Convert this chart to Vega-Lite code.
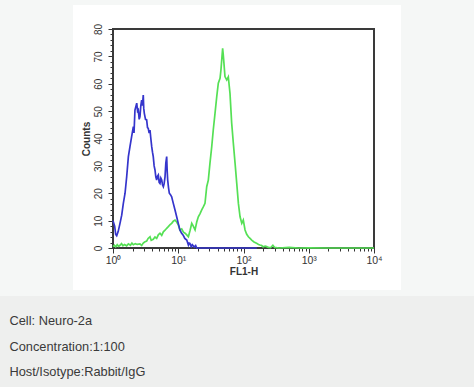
{
  "$schema": "https://vega.github.io/schema/vega-lite/v6.json",
  "background": "#f5f7f6",
  "padding": {"left": 0, "right": 0, "top": 5, "bottom": 0},
  "spacing": 6,
  "center": true,
  "config": {"view": {"stroke": null}, "font": "Liberation Sans"},
  "datasets": {
    "hist": [
      {"sample": "isotype", "fl1h": 1.00, "counts": 10},
      {"sample": "isotype", "fl1h": 1.06, "counts": 8},
      {"sample": "isotype", "fl1h": 1.10, "counts": 5},
      {"sample": "isotype", "fl1h": 1.14, "counts": 4.5},
      {"sample": "isotype", "fl1h": 1.20, "counts": 6},
      {"sample": "isotype", "fl1h": 1.28, "counts": 9},
      {"sample": "isotype", "fl1h": 1.36, "counts": 12},
      {"sample": "isotype", "fl1h": 1.44, "counts": 16.3},
      {"sample": "isotype", "fl1h": 1.53, "counts": 20},
      {"sample": "isotype", "fl1h": 1.62, "counts": 26},
      {"sample": "isotype", "fl1h": 1.72, "counts": 33.4},
      {"sample": "isotype", "fl1h": 1.82, "counts": 37},
      {"sample": "isotype", "fl1h": 1.93, "counts": 40.7},
      {"sample": "isotype", "fl1h": 2.05, "counts": 44.3},
      {"sample": "isotype", "fl1h": 2.10, "counts": 42},
      {"sample": "isotype", "fl1h": 2.17, "counts": 50.4},
      {"sample": "isotype", "fl1h": 2.31, "counts": 52.9},
      {"sample": "isotype", "fl1h": 2.38, "counts": 50},
      {"sample": "isotype", "fl1h": 2.44, "counts": 50.4},
      {"sample": "isotype", "fl1h": 2.52, "counts": 47},
      {"sample": "isotype", "fl1h": 2.59, "counts": 48},
      {"sample": "isotype", "fl1h": 2.67, "counts": 52},
      {"sample": "isotype", "fl1h": 2.75, "counts": 54},
      {"sample": "isotype", "fl1h": 2.83, "counts": 52},
      {"sample": "isotype", "fl1h": 2.91, "counts": 55.9},
      {"sample": "isotype", "fl1h": 2.96, "counts": 51},
      {"sample": "isotype", "fl1h": 3.02, "counts": 49.2},
      {"sample": "isotype", "fl1h": 3.15, "counts": 47},
      {"sample": "isotype", "fl1h": 3.28, "counts": 46.8},
      {"sample": "isotype", "fl1h": 3.38, "counts": 44},
      {"sample": "isotype", "fl1h": 3.47, "counts": 43.7},
      {"sample": "isotype", "fl1h": 3.58, "counts": 42},
      {"sample": "isotype", "fl1h": 3.69, "counts": 43.1},
      {"sample": "isotype", "fl1h": 3.80, "counts": 40},
      {"sample": "isotype", "fl1h": 3.92, "counts": 37},
      {"sample": "isotype", "fl1h": 4.03, "counts": 35},
      {"sample": "isotype", "fl1h": 4.14, "counts": 33.4},
      {"sample": "isotype", "fl1h": 4.27, "counts": 30},
      {"sample": "isotype", "fl1h": 4.40, "counts": 28.5},
      {"sample": "isotype", "fl1h": 4.53, "counts": 26},
      {"sample": "isotype", "fl1h": 4.67, "counts": 24.8},
      {"sample": "isotype", "fl1h": 4.80, "counts": 26.2},
      {"sample": "isotype", "fl1h": 4.95, "counts": 26.7},
      {"sample": "isotype", "fl1h": 5.10, "counts": 24},
      {"sample": "isotype", "fl1h": 5.25, "counts": 23.6},
      {"sample": "isotype", "fl1h": 5.41, "counts": 25.5},
      {"sample": "isotype", "fl1h": 5.58, "counts": 24.8},
      {"sample": "isotype", "fl1h": 5.75, "counts": 23},
      {"sample": "isotype", "fl1h": 5.91, "counts": 22.4},
      {"sample": "isotype", "fl1h": 6.08, "counts": 23.5},
      {"sample": "isotype", "fl1h": 6.27, "counts": 26},
      {"sample": "isotype", "fl1h": 6.45, "counts": 31},
      {"sample": "isotype", "fl1h": 6.65, "counts": 33.4},
      {"sample": "isotype", "fl1h": 6.77, "counts": 28},
      {"sample": "isotype", "fl1h": 6.89, "counts": 24.8},
      {"sample": "isotype", "fl1h": 7.10, "counts": 22},
      {"sample": "isotype", "fl1h": 7.30, "counts": 20},
      {"sample": "isotype", "fl1h": 7.60, "counts": 19.5},
      {"sample": "isotype", "fl1h": 7.93, "counts": 18.7},
      {"sample": "isotype", "fl1h": 8.16, "counts": 17.5},
      {"sample": "isotype", "fl1h": 8.40, "counts": 16.3},
      {"sample": "isotype", "fl1h": 8.92, "counts": 13.9},
      {"sample": "isotype", "fl1h": 9.46, "counts": 11.4},
      {"sample": "isotype", "fl1h": 10.0, "counts": 9},
      {"sample": "isotype", "fl1h": 10.6, "counts": 6.6},
      {"sample": "isotype", "fl1h": 11.2, "counts": 5.5},
      {"sample": "isotype", "fl1h": 11.9, "counts": 4.7},
      {"sample": "isotype", "fl1h": 12.6, "counts": 3.5},
      {"sample": "isotype", "fl1h": 13.5, "counts": 2.9},
      {"sample": "isotype", "fl1h": 14.3, "counts": 1.1},
      {"sample": "isotype", "fl1h": 14.7, "counts": 1.8},
      {"sample": "isotype", "fl1h": 15.1, "counts": 1.7},
      {"sample": "isotype", "fl1h": 15.8, "counts": 0.5},
      {"sample": "isotype", "fl1h": 16.4, "counts": 1.2},
      {"sample": "isotype", "fl1h": 17.0, "counts": 0.8},
      {"sample": "isotype", "fl1h": 17.6, "counts": 0.3},
      {"sample": "isotype", "fl1h": 18.5, "counts": 0.9},
      {"sample": "isotype", "fl1h": 19.2, "counts": 0},
      {"sample": "isotype", "fl1h": 40, "counts": 0},
      {"sample": "isotype", "fl1h": 80, "counts": 0},
      {"sample": "isotype", "fl1h": 160, "counts": 0},
      {"sample": "antibody", "fl1h": 1.00, "counts": 0.5},
      {"sample": "antibody", "fl1h": 1.05, "counts": 1.0},
      {"sample": "antibody", "fl1h": 1.10, "counts": 0.4},
      {"sample": "antibody", "fl1h": 1.16, "counts": 1.2},
      {"sample": "antibody", "fl1h": 1.22, "counts": 0.6},
      {"sample": "antibody", "fl1h": 1.28, "counts": 1.0},
      {"sample": "antibody", "fl1h": 1.35, "counts": 1.6},
      {"sample": "antibody", "fl1h": 1.42, "counts": 0.8},
      {"sample": "antibody", "fl1h": 1.50, "counts": 1.3},
      {"sample": "antibody", "fl1h": 1.62, "counts": 0.8},
      {"sample": "antibody", "fl1h": 1.72, "counts": 1.5},
      {"sample": "antibody", "fl1h": 1.85, "counts": 1.0},
      {"sample": "antibody", "fl1h": 1.95, "counts": 1.8},
      {"sample": "antibody", "fl1h": 2.05, "counts": 1.2},
      {"sample": "antibody", "fl1h": 2.20, "counts": 1.6},
      {"sample": "antibody", "fl1h": 2.35, "counts": 1.3},
      {"sample": "antibody", "fl1h": 2.59, "counts": 1.5},
      {"sample": "antibody", "fl1h": 2.75, "counts": 0.9},
      {"sample": "antibody", "fl1h": 2.91, "counts": 1.8},
      {"sample": "antibody", "fl1h": 3.05, "counts": 2.2},
      {"sample": "antibody", "fl1h": 3.28, "counts": 2.5},
      {"sample": "antibody", "fl1h": 3.45, "counts": 3.5},
      {"sample": "antibody", "fl1h": 3.69, "counts": 4.1},
      {"sample": "antibody", "fl1h": 3.85, "counts": 2.8},
      {"sample": "antibody", "fl1h": 4.00, "counts": 3.0},
      {"sample": "antibody", "fl1h": 4.14, "counts": 3.2},
      {"sample": "antibody", "fl1h": 4.40, "counts": 4.0},
      {"sample": "antibody", "fl1h": 4.67, "counts": 3.5},
      {"sample": "antibody", "fl1h": 4.95, "counts": 4.8},
      {"sample": "antibody", "fl1h": 5.25, "counts": 5.4},
      {"sample": "antibody", "fl1h": 5.58, "counts": 4.6},
      {"sample": "antibody", "fl1h": 5.91, "counts": 5.9},
      {"sample": "antibody", "fl1h": 6.27, "counts": 6.5},
      {"sample": "antibody", "fl1h": 6.65, "counts": 7.2},
      {"sample": "antibody", "fl1h": 7.04, "counts": 7.8},
      {"sample": "antibody", "fl1h": 7.50, "counts": 8.5},
      {"sample": "antibody", "fl1h": 7.93, "counts": 9},
      {"sample": "antibody", "fl1h": 8.40, "counts": 9.8},
      {"sample": "antibody", "fl1h": 8.92, "counts": 10.2},
      {"sample": "antibody", "fl1h": 9.46, "counts": 9.5},
      {"sample": "antibody", "fl1h": 10.0, "counts": 8.5},
      {"sample": "antibody", "fl1h": 10.6, "counts": 6.6},
      {"sample": "antibody", "fl1h": 11.3, "counts": 7.0},
      {"sample": "antibody", "fl1h": 12.0, "counts": 5.8},
      {"sample": "antibody", "fl1h": 12.7, "counts": 5.4},
      {"sample": "antibody", "fl1h": 13.5, "counts": 4.8},
      {"sample": "antibody", "fl1h": 14.3, "counts": 4.1},
      {"sample": "antibody", "fl1h": 15.2, "counts": 6.5},
      {"sample": "antibody", "fl1h": 16.1, "counts": 9},
      {"sample": "antibody", "fl1h": 17.0, "counts": 8.0},
      {"sample": "antibody", "fl1h": 18.1, "counts": 6.6},
      {"sample": "antibody", "fl1h": 19.2, "counts": 9.5},
      {"sample": "antibody", "fl1h": 20.3, "counts": 11.4},
      {"sample": "antibody", "fl1h": 21.5, "counts": 12.5},
      {"sample": "antibody", "fl1h": 22.9, "counts": 13.9},
      {"sample": "antibody", "fl1h": 24.2, "counts": 15},
      {"sample": "antibody", "fl1h": 25.7, "counts": 16.3},
      {"sample": "antibody", "fl1h": 27.3, "counts": 22.4},
      {"sample": "antibody", "fl1h": 28.9, "counts": 24.8},
      {"sample": "antibody", "fl1h": 30.6, "counts": 30.9},
      {"sample": "antibody", "fl1h": 32.6, "counts": 37},
      {"sample": "antibody", "fl1h": 34.4, "counts": 43.1},
      {"sample": "antibody", "fl1h": 36.6, "counts": 49.2},
      {"sample": "antibody", "fl1h": 38.9, "counts": 55.3},
      {"sample": "antibody", "fl1h": 41.1, "counts": 60.2},
      {"sample": "antibody", "fl1h": 43.7, "counts": 62},
      {"sample": "antibody", "fl1h": 45.1, "counts": 65},
      {"sample": "antibody", "fl1h": 46.8, "counts": 69.9},
      {"sample": "antibody", "fl1h": 47.9, "counts": 72.9},
      {"sample": "antibody", "fl1h": 48.8, "counts": 71},
      {"sample": "antibody", "fl1h": 49.7, "counts": 68.7},
      {"sample": "antibody", "fl1h": 52.0, "counts": 62.6},
      {"sample": "antibody", "fl1h": 55.3, "counts": 61.4},
      {"sample": "antibody", "fl1h": 58.5, "counts": 62.5},
      {"sample": "antibody", "fl1h": 62.1, "counts": 56.5},
      {"sample": "antibody", "fl1h": 65.9, "counts": 45.6},
      {"sample": "antibody", "fl1h": 69.9, "counts": 38.2},
      {"sample": "antibody", "fl1h": 74.3, "counts": 30.9},
      {"sample": "antibody", "fl1h": 78.8, "counts": 23.6},
      {"sample": "antibody", "fl1h": 83.5, "counts": 16.3},
      {"sample": "antibody", "fl1h": 88.6, "counts": 11.4},
      {"sample": "antibody", "fl1h": 94.1, "counts": 9},
      {"sample": "antibody", "fl1h": 99.3, "counts": 10.2},
      {"sample": "antibody", "fl1h": 105.6, "counts": 6.6},
      {"sample": "antibody", "fl1h": 112, "counts": 5.0},
      {"sample": "antibody", "fl1h": 118.8, "counts": 4.1},
      {"sample": "antibody", "fl1h": 126, "counts": 3.5},
      {"sample": "antibody", "fl1h": 133.5, "counts": 2.9},
      {"sample": "antibody", "fl1h": 145, "counts": 2.2},
      {"sample": "antibody", "fl1h": 158.6, "counts": 1.7},
      {"sample": "antibody", "fl1h": 170, "counts": 1.3},
      {"sample": "antibody", "fl1h": 178.8, "counts": 1.1},
      {"sample": "antibody", "fl1h": 190, "counts": 0.9},
      {"sample": "antibody", "fl1h": 200, "counts": 0.4},
      {"sample": "antibody", "fl1h": 215, "counts": 0.7},
      {"sample": "antibody", "fl1h": 226, "counts": 0.5},
      {"sample": "antibody", "fl1h": 240, "counts": 0.2},
      {"sample": "antibody", "fl1h": 260, "counts": 0.1},
      {"sample": "antibody", "fl1h": 282, "counts": 1.0},
      {"sample": "antibody", "fl1h": 300, "counts": 0.2},
      {"sample": "antibody", "fl1h": 350, "counts": 0},
      {"sample": "antibody", "fl1h": 500, "counts": 0.2},
      {"sample": "antibody", "fl1h": 700, "counts": 0},
      {"sample": "antibody", "fl1h": 1000, "counts": 0.1},
      {"sample": "antibody", "fl1h": 2000, "counts": 0},
      {"sample": "antibody", "fl1h": 5000, "counts": 0},
      {"sample": "antibody", "fl1h": 10000, "counts": 0}
    ],
    "frame": [
      {"xmin": 1, "xmax": 10000, "ymin": 0, "ymax": 80}
    ],
    "caption": [
      {"line": 1, "text": "Cell: Neuro-2a"},
      {"line": 2, "text": "Concentration:1:100"},
      {"line": 3, "text": "Host/Isotype:Rabbit/IgG"}
    ]
  },
  "vconcat": [
    {
      "width": 328,
      "height": 285,
      "view": {"fill": "white", "stroke": null},
      "layer": [
        {
          "data": {"name": "frame"},
          "mark": {"type": "rect", "fill": "transparent", "stroke": "#3a3a3a", "strokeOpacity": 1, "strokeWidth": 2},
          "encoding": {
            "x": {"field": "xmin", "type": "quantitative"},
            "x2": {"field": "xmax"},
            "y": {"field": "ymin", "type": "quantitative"},
            "y2": {"field": "ymax"}
          }
        },
        {
          "data": {"name": "hist"},
          "transform": [{"filter": "datum.sample == 'antibody'"}],
          "mark": {"type": "line", "color": "#55e055", "strokeWidth": 1.7},
          "encoding": {
            "x": {"field": "fl1h", "type": "quantitative"},
            "y": {"field": "counts", "type": "quantitative"}
          }
        },
        {
          "data": {"name": "hist"},
          "transform": [{"filter": "datum.sample == 'isotype'"}],
          "mark": {"type": "line", "color": "#3535cc", "strokeWidth": 1.7},
          "encoding": {
            "x": {"field": "fl1h", "type": "quantitative"},
            "y": {"field": "counts", "type": "quantitative"}
          }
        }
      ],
      "encoding": {
        "x": {
          "field": "fl1h",
          "type": "quantitative",
          "title": "FL1-H",
          "scale": {"type": "log", "domain": [1, 10000], "range": [40, 301], "nice": false},
          "axis": {
            "offset": -42,
            "domain": false,
            "grid": false,
            "values": [1,2,3,4,5,6,7,8,9,10,20,30,40,50,60,70,80,90,100,200,300,400,500,600,700,800,900,1000,2000,3000,4000,5000,6000,7000,8000,9000,10000],
            "labelExpr": "datum.value == 1 ? '10⁰' : datum.value == 10 ? '10¹' : datum.value == 100 ? '10²' : datum.value == 1000 ? '10³' : datum.value == 10000 ? '10⁴' : ''",
            "labelOverlap": false,
            "labelFlush": false,
            "labelFontSize": 10.5,
            "labelColor": "#333",
            "labelPadding": 2,
            "tickColor": "#333",
            "tickSize": {"condition": {"test": "datum.value == 1 || datum.value == 10 || datum.value == 100 || datum.value == 1000 || datum.value == 10000", "value": 5}, "value": 3},
            "titleFontSize": 10,
            "titleFontWeight": "bold",
            "titleColor": "#333",
            "titlePadding": 1
          }
        },
        "y": {
          "field": "counts",
          "type": "quantitative",
          "title": "Counts",
          "scale": {"domain": [0, 80], "range": [243, 24], "nice": false, "zero": false},
          "axis": {
            "offset": -40,
            "domain": false,
            "grid": false,
            "values": [0,2,4,6,8,10,12,14,16,18,20,22,24,26,28,30,32,34,36,38,40,42,44,46,48,50,52,54,56,58,60,62,64,66,68,70,72,74,76,78,80],
            "labelExpr": "datum.value % 10 == 0 ? datum.label : ''",
            "labelAngle": -90,
            "labelAlign": "center",
            "labelBaseline": "bottom",
            "labelOverlap": false,
            "labelFlush": false,
            "labelFontSize": 10,
            "labelColor": "#333",
            "labelPadding": 5,
            "tickColor": "#333",
            "tickSize": {"condition": {"test": "datum.value % 10 == 0", "value": 5}, "value": 3},
            "titleFontSize": 10,
            "titleFontWeight": "bold",
            "titleColor": "#333",
            "titlePadding": 2
          }
        }
      }
    },
    {
      "width": 474,
      "height": 91,
      "view": {"fill": "#eeefee", "stroke": null},
      "data": {"name": "caption"},
      "mark": {"type": "text", "align": "left", "baseline": "middle", "dx": 9.5, "fontSize": 12.8, "color": "#3a3a3a", "font": "Liberation Sans"},
      "encoding": {
        "x": {"datum": 0, "type": "quantitative", "scale": {"domain": [0, 1]}, "axis": null},
        "y": {"field": "line", "type": "quantitative", "scale": {"domain": [0, 3.6], "reverse": true}, "axis": null},
        "text": {"field": "text"}
      }
    }
  ],
  "resolve": {"scale": {"x": "independent", "y": "independent"}}
}
